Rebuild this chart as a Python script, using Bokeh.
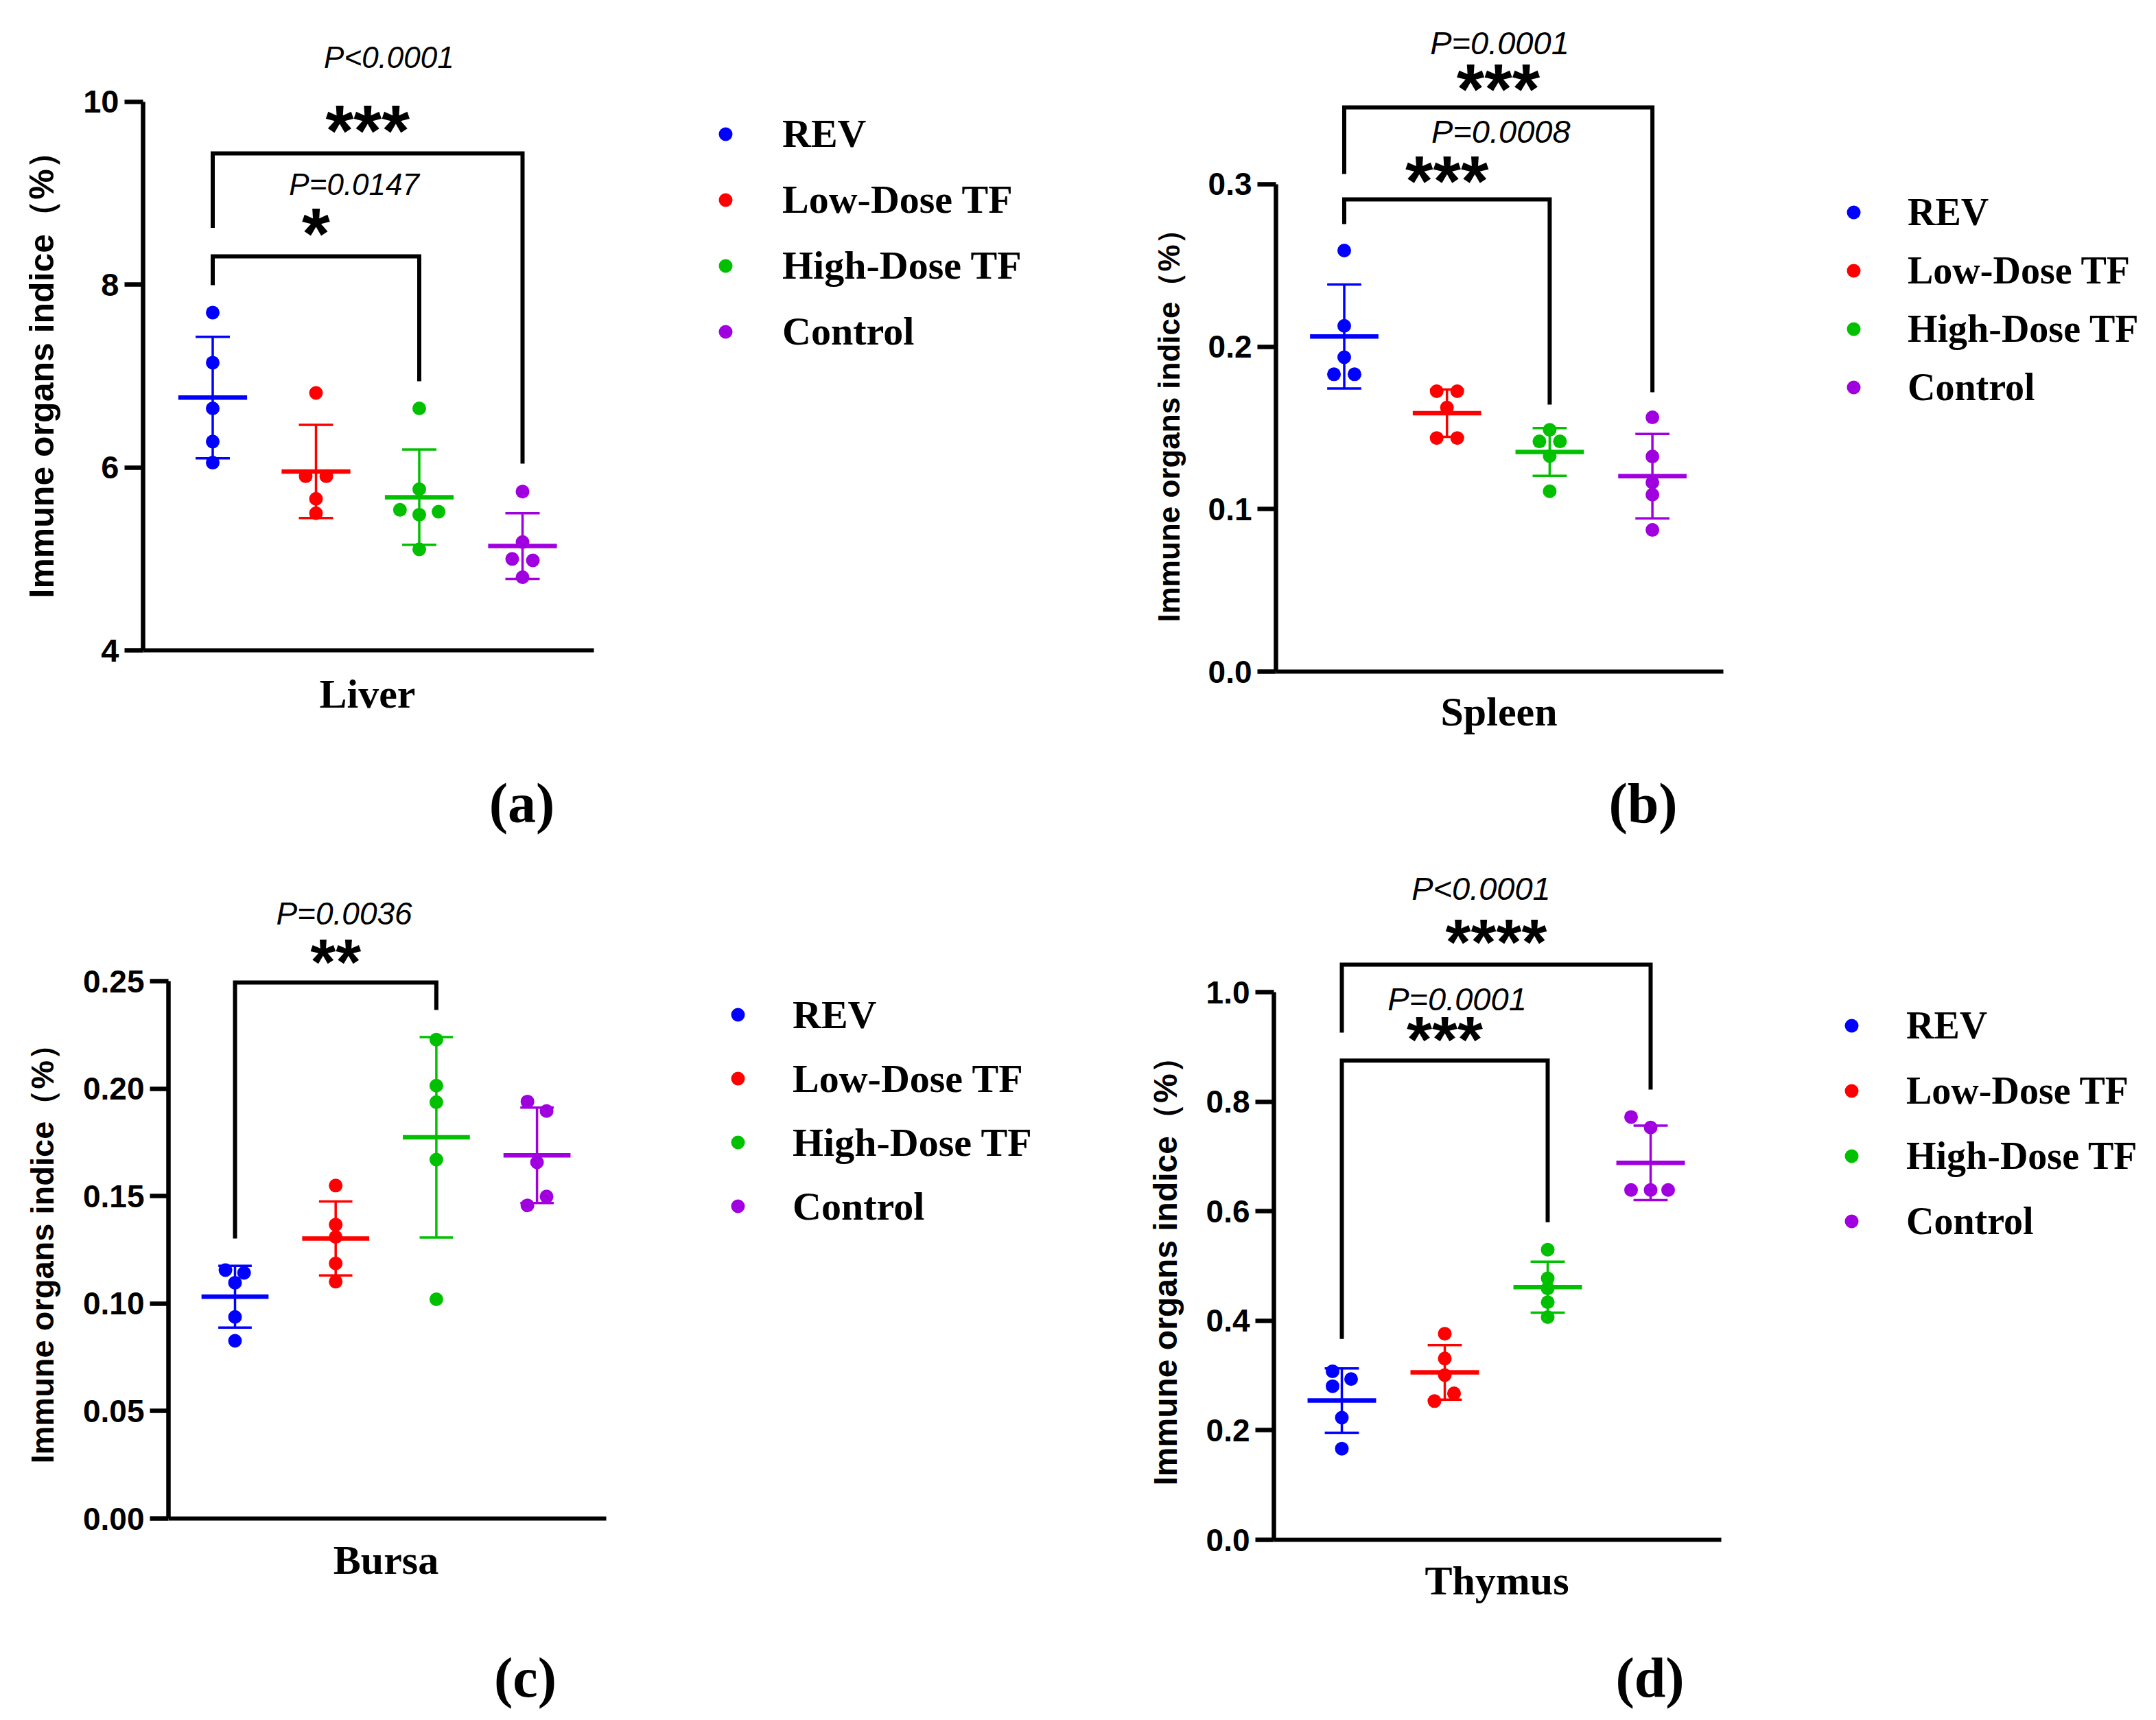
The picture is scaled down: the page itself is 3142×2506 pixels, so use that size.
import numpy as np
from bokeh.plotting import figure
from bokeh.layouts import column, row
from bokeh.models import Range1d, FixedTicker, Legend, LegendItem, Title
from bokeh.embed import file_html
from bokeh.resources import INLINE
from bokeh.core.properties import value

# ---------------- data ----------------
groups = ["REV", "Low-Dose TF", "High-Dose TF", "Control"]
colors = ["#0000FF", "#FF0000", "#00C000", "#A000E0"]

liver_rev = [7.695, 7.147, 6.647, 6.284, 6.053]
liver_low = [6.816, 5.905, 5.905, 5.658, 5.500]
liver_high = [6.647, 5.763, 5.537, 5.516, 5.484, 5.105]
liver_ctrl = [5.737, 5.184, 5.000, 4.984, 4.800]

spleen_rev = [0.2592, 0.2128, 0.1935, 0.1830, 0.1830]
spleen_low = [0.1726, 0.1726, 0.1625, 0.1438, 0.1438]
spleen_high = [0.1488, 0.1417, 0.1417, 0.1327, 0.1110]
spleen_ctrl = [0.1565, 0.1324, 0.1164, 0.1089, 0.0872]

bursa_rev = [0.1156, 0.1143, 0.1097, 0.0938, 0.0827]
bursa_low = [0.1549, 0.1367, 0.1310, 0.1187, 0.1102]
bursa_high = [0.2228, 0.2014, 0.1937, 0.1670, 0.1020]
bursa_ctrl = [0.1940, 0.1896, 0.1657, 0.1498, 0.1457]

thymus_rev = [0.3078, 0.2936, 0.2805, 0.2230, 0.1665]
thymus_low = [0.3764, 0.3310, 0.3007, 0.2674, 0.2533]
thymus_high = [0.5298, 0.4773, 0.4591, 0.4339, 0.4067]
thymus_ctrl = [0.7720, 0.7528, 0.6388, 0.6388, 0.6388]

liver_ticks = [4, 6, 8, 10]
liver_tick_labels = ["4", "6", "8", "10"]
spleen_ticks = [0.0, 0.1, 0.2, 0.3]
spleen_tick_labels = ["0.0", "0.1", "0.2", "0.3"]
bursa_ticks = [0.0, 0.05, 0.10, 0.15, 0.20, 0.25]
bursa_tick_labels = ["0.00", "0.05", "0.10", "0.15", "0.20", "0.25"]
thymus_ticks = [0.0, 0.2, 0.4, 0.6, 0.8, 1.0]
thymus_tick_labels = ["0.0", "0.2", "0.4", "0.6", "0.8", "1.0"]

# significance brackets: (group_a, group_b, top, left_bottom, right_bottom)
liver_brackets = [(1, 4, 9.437, 8.622, 6.043), (1, 3, 8.310, 7.995, 6.944)]
spleen_brackets = [(1, 4, 0.3473, 0.3063, 0.1719), (1, 3, 0.2907, 0.2755, 0.1643)]
bursa_brackets = [(1, 3, 0.2494, 0.1303, 0.2366)]
thymus_brackets = [(1, 4, 1.050, 0.926, 0.822), (1, 3, 0.875, 0.367, 0.580)]

liver_pvals = [(2.707, 10.488, "P<0.0001"), (2.37, 9.101, "P=0.0147")]
liver_stars = [(2.5, 9.786, "***"), (2.0, 8.663, "*")]
spleen_pvals = [(2.513, 0.3870, "P=0.0001"), (2.525, 0.3323, "P=0.0008")]
spleen_stars = [(2.5, 0.3644, "***"), (2.0, 0.3076, "***")]
bursa_pvals = [(2.084, 0.2815, "P=0.0036")]
bursa_stars = [(2.0, 0.2633, "**")]
thymus_pvals = [(2.353, 1.189, "P<0.0001"), (2.12, 0.987, "P=0.0001")]
thymus_stars = [(2.5, 1.108, "****"), (2.0, 0.930, "***")]

# horizontal scatter of overlapping dots (fraction of group spacing)
liver_jit = [[0, 0, 0, 0, 0], [0, -0.1, 0.1, 0, 0], [0, 0, -0.187, 0.187, 0, 0], [0, 0, -0.1, 0.1, 0]]
spleen_jit = [[0, 0, 0, -0.1, 0.1], [-0.1, 0.1, 0, -0.1, 0.1], [0, -0.1, 0.1, 0, 0], [0, 0, 0, 0, 0]]
bursa_jit = [[-0.095, 0.09, 0, 0, 0], [0, 0, 0, 0, 0], [0, 0, 0, 0, 0], [-0.095, 0.095, 0, 0.095, -0.095]]
thymus_jit = [[-0.09, 0.09, -0.09, 0, 0], [0, 0, 0, 0.09, -0.1], [0, 0, 0, 0, 0], [-0.19, 0, -0.19, 0, 0.17]]

# ---------------- layout (reference pixel geometry) ----------------
W, H = 1563, 1245

panels = [
    dict(col=0, row=0, spine=207.5, xright=865, axis_y=947, ymin=4, ppu=133.17,
         g0=309.5, gs=150.5, data=[liver_rev, liver_low, liver_high, liver_ctrl], jit=liver_jit,
         ticks=liver_ticks, tlabels=liver_tick_labels, xlabel="Liver", xlabel_xy=(535, 1010),
         letter="(a)", letter_xy=(760, 1170),
         leg=(1057, 196), leg_sp=95.6, leg_tx=1140, lfs=58, brackets=liver_brackets, pvals=liver_pvals,
         stars=liver_stars, pfs=44, sfs=105, ylfs=50, tfs=47, yl_start=871),
    dict(col=1, row=0, spine=1859, xright=2511, axis_y=978, ymin=0.0, ppu=2367,
         g0=1958.5, gs=149.7, data=[spleen_rev, spleen_low, spleen_high, spleen_ctrl], jit=spleen_jit,
         ticks=spleen_ticks, tlabels=spleen_tick_labels, xlabel="Spleen", xlabel_xy=(2184, 1036),
         letter="(b)", letter_xy=(2394, 1170),
         leg=(2701, 310), leg_sp=84.7, leg_tx=2780, lfs=56, brackets=spleen_brackets, pvals=spleen_pvals,
         stars=spleen_stars, pfs=47, sfs=104, ylfs=44, tfs=46, yl_start=906),
    dict(col=0, row=1, spine=245, xright=883, axis_y=2212, ymin=0.0, ppu=3132,
         g0=342, gs=146.7, data=[bursa_rev, bursa_low, bursa_high, bursa_ctrl], jit=bursa_jit,
         ticks=bursa_ticks, tlabels=bursa_tick_labels, xlabel="Bursa", xlabel_xy=(562, 2272),
         letter="(c)", letter_xy=(765, 2444),
         leg=(1075, 1478), leg_sp=93, leg_tx=1155, lfs=58, brackets=bursa_brackets, pvals=bursa_pvals,
         stars=bursa_stars, pfs=46, sfs=95, ylfs=47, tfs=46, yl_start=2132),
    dict(col=1, row=1, spine=1856, xright=2508, axis_y=2243, ymin=0.0, ppu=798,
         g0=1955, gs=150, data=[thymus_rev, thymus_low, thymus_high, thymus_ctrl], jit=thymus_jit,
         ticks=thymus_ticks, tlabels=thymus_tick_labels, xlabel="Thymus", xlabel_xy=(2181, 2302),
         letter="(d)", letter_xy=(2404, 2444),
         leg=(2698, 1494), leg_sp=95, leg_tx=2778, lfs=56, brackets=thymus_brackets, pvals=thymus_pvals,
         stars=thymus_stars, pfs=47, sfs=95, ylfs=48, tfs=46, yl_start=2164),
]

SANS = "Liberation Sans"
SERIF = "Liberation Serif"


def build(c):
    ix = lambda x: x - c["col"] * W
    iy = lambda y: y - c["row"] * H
    left = int(round(ix(c["spine"])))
    g0, gs, ppu, ymin = c["g0"], c["gs"], c["ppu"], c["ymin"]
    g0_in = ix(g0)
    axis_in = iy(c["axis_y"])

    dx = lambda xr: 1 + (xr - g0) / gs            # reference px -> group units
    dy = lambda yr: ymin + (c["axis_y"] - yr) / ppu  # reference px -> value units

    x0 = 1 + (left - g0_in) / gs
    x1 = 1 + (W - g0_in) / gs
    y0 = ymin - (H - axis_in) / ppu
    y1 = ymin + axis_in / ppu

    p = figure(width=W, height=H, output_backend="svg", toolbar_location=None,
               x_range=Range1d(x0, x1), y_range=Range1d(y0, y1),
               min_border_left=left, min_border_right=0,
               min_border_top=0, min_border_bottom=0)
    p.grid.visible = False
    p.outline_line_color = None
    p.background_fill_color = "white"
    p.border_fill_color = "white"
    p.xaxis.visible = False

    # y axis (real axis, limited to the tick range)
    ya = p.yaxis[0]
    ya.ticker = FixedTicker(ticks=c["ticks"])
    ya.major_label_overrides = {t: l for t, l in zip(c["ticks"], c["tlabels"])}
    ya.bounds = (c["ticks"][0], c["ticks"][-1])
    ya.axis_line_width = 6.5
    ya.major_tick_line_width = 6.5
    ya.major_tick_out = 27
    ya.major_tick_in = 0
    ya.minor_tick_line_color = None
    ya.major_label_standoff = 8
    ya.major_label_text_font = SANS
    ya.major_label_text_font_style = "bold"
    ya.major_label_text_font_size = f"{c['tfs']}px"
    ya.major_label_text_color = "black"

    # y label as a side title, anchored at its lower end
    yl_off = H - iy(c["yl_start"])
    p.add_layout(Title(text="Immune organs indice（%）", align="left", offset=yl_off,
                       vertical_align="bottom", standoff=60, text_font=SANS,
                       text_font_style="bold", text_font_size=f"{c['ylfs']}px",
                       text_color="black"), "left")

    # x axis line (no ticks in the original)
    p.segment(x0=[x0], y0=[ymin], x1=[dx(c["xright"])], y1=[ymin], line_color="black", line_width=6)

    items = []
    for gi, (vals, col, name) in enumerate(zip(c["data"], colors, groups)):
        v = np.array(vals, dtype=float)
        m = v.mean()
        sd = v.std(ddof=1)
        xc = gi + 1
        p.segment(x0=[xc], y0=[m - sd], x1=[xc], y1=[m + sd], line_color=col, line_width=3.5)
        p.segment(x0=[xc - 0.166, xc - 0.166], y0=[m - sd, m + sd], x1=[xc + 0.166, xc + 0.166],
                  y1=[m - sd, m + sd], line_color=col, line_width=3.5)
        p.segment(x0=[xc - 0.333], y0=[m], x1=[xc + 0.333], y1=[m], line_color=col, line_width=6.5)
        xs = xc + np.array(c["jit"][gi], dtype=float)
        r = p.scatter(x=xs, y=v, size=20, marker="circle", fill_color=col, line_color=col, line_width=0)
        items.append(LegendItem(label=name, renderers=[r]))

    for (ga, gb, yt, yl, yr) in c["brackets"]:
        p.line(x=[ga, ga, gb, gb], y=[yl, yt, yt, yr], line_color="black", line_width=6,
               line_join="miter", line_cap="butt")

    p.text(x=[t[0] for t in c["pvals"]], y=[t[1] for t in c["pvals"]], text=[t[2] for t in c["pvals"]],
           text_font=value(SANS), text_font_style="italic", text_font_size=f"{c['pfs']}px",
           text_align="center", text_baseline="middle", text_color="black")
    p.text(x=[t[0] for t in c["stars"]], y=[t[1] for t in c["stars"]], text=[t[2] for t in c["stars"]],
           text_font=value(SANS), text_font_style="bold", text_font_size=f"{c['sfs']}px",
           text_align="center", text_baseline="middle", text_color="black",
           y_offset=int(0.14 * c["sfs"]))

    # x label and panel letter
    xlx, xly = c["xlabel_xy"]
    p.text(x=[dx(xlx)], y=[dy(xly)], text=[c["xlabel"]], text_font=value(SERIF), text_font_style="bold",
           text_font_size="60px", text_align="center", text_baseline="middle", text_color="black")
    lx_, ly_ = c["letter_xy"]
    p.text(x=[dx(lx_)], y=[dy(ly_)], text=[c["letter"]], text_font=value(SERIF), text_font_style="bold",
           text_font_size="82px", text_align="center", text_baseline="middle", text_color="black")

    # legend inside the (wide) frame
    item_h = c["leg_sp"]
    lx, ly = c["leg"]
    leg_left = ix(lx - 25) - left
    leg_top = iy(ly - c["leg_sp"] / 2)
    leg_bottom_from_frame_bottom = H - (leg_top + 4 * item_h)
    legend = Legend(items=items, location=(leg_left, leg_bottom_from_frame_bottom),
                    glyph_width=50, glyph_height=50, label_height=int(round(item_h)), spacing=0,
                    padding=0, margin=0, label_standoff=int(c["leg_tx"] - lx - 25),
                    border_line_color=None, background_fill_alpha=0,
                    label_text_font=SERIF, label_text_font_style="bold",
                    label_text_font_size=f"{c['lfs']}px", label_text_color="black")
    p.add_layout(legend)
    return p


figs = [build(c) for c in panels]
layout = column(row(figs[0], figs[1]), row(figs[2], figs[3]))
open("out.html", "w").write(file_html(layout, INLINE))
